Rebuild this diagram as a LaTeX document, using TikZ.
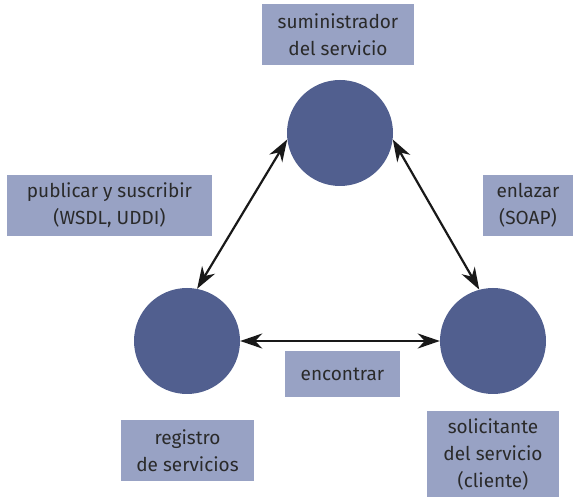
\documentclass[tikz,border=0pt]{standalone}
\usepackage{fontspec}
\setmainfont{Fira Sans}
\usetikzlibrary{arrows.meta}

\definecolor{circulo}{HTML}{515F8F}
\definecolor{caja}{HTML}{98A2C4}
\definecolor{texto}{HTML}{2A2A2A}

\begin{document}
\begin{tikzpicture}[x=1pt, y=-1pt, >={Stealth[length=22pt, width=15pt, inset=7pt]}]

    % estilos
    \tikzstyle{papel}=[circle, fill=circulo, minimum size=106pt, inner sep=0pt]
    \tikzstyle{etiqueta}=[rectangle, fill=caja, text=texto, align=center, inner sep=0pt,
                          font=\fontsize{19}{27}\selectfont]
    \tikzstyle{flecha}=[<->, line width=2.2pt, black!90]

    \useasboundingbox (0,0) rectangle (574,497);

    % papeles (circulos)
    \node[papel] (sum) at (340,133) {};
    \node[papel] (reg) at (187,341) {};
    \node[papel] (sol) at (493,341) {};

    % etiquetas
    \node[etiqueta, minimum width=152pt, minimum height=61pt] (tsum) at (338,34.5)
        {suministrador\\del servicio};
    \node[etiqueta, minimum width=205pt, minimum height=61pt] (tpub) at (109.5,205.5)
        {publicar y suscribir\\(WSDL, UDDI)};
    \node[etiqueta, minimum width=90pt, minimum height=61pt] (tenl) at (528,205.5)
        {enlazar\\(SOAP)};
    \node[etiqueta, minimum width=115pt, minimum height=46pt] (tenc) at (342.5,374)
        {encontrar};
    \node[etiqueta, minimum width=133pt, minimum height=61pt] (treg) at (187.5,450.5)
        {registro\\de servicios};
    \node[etiqueta, minimum width=132pt, minimum height=86pt] (tsol) at (493,454)
        {solicitante\\del servicio\\(cliente)};

    % conexiones
    \draw[flecha] (sum.187) -- (reg.79);
    \draw[flecha] (sum.353) -- (sol.105);
    \draw[flecha] (reg.east) -- (sol.west);

\end{tikzpicture}
\end{document}
